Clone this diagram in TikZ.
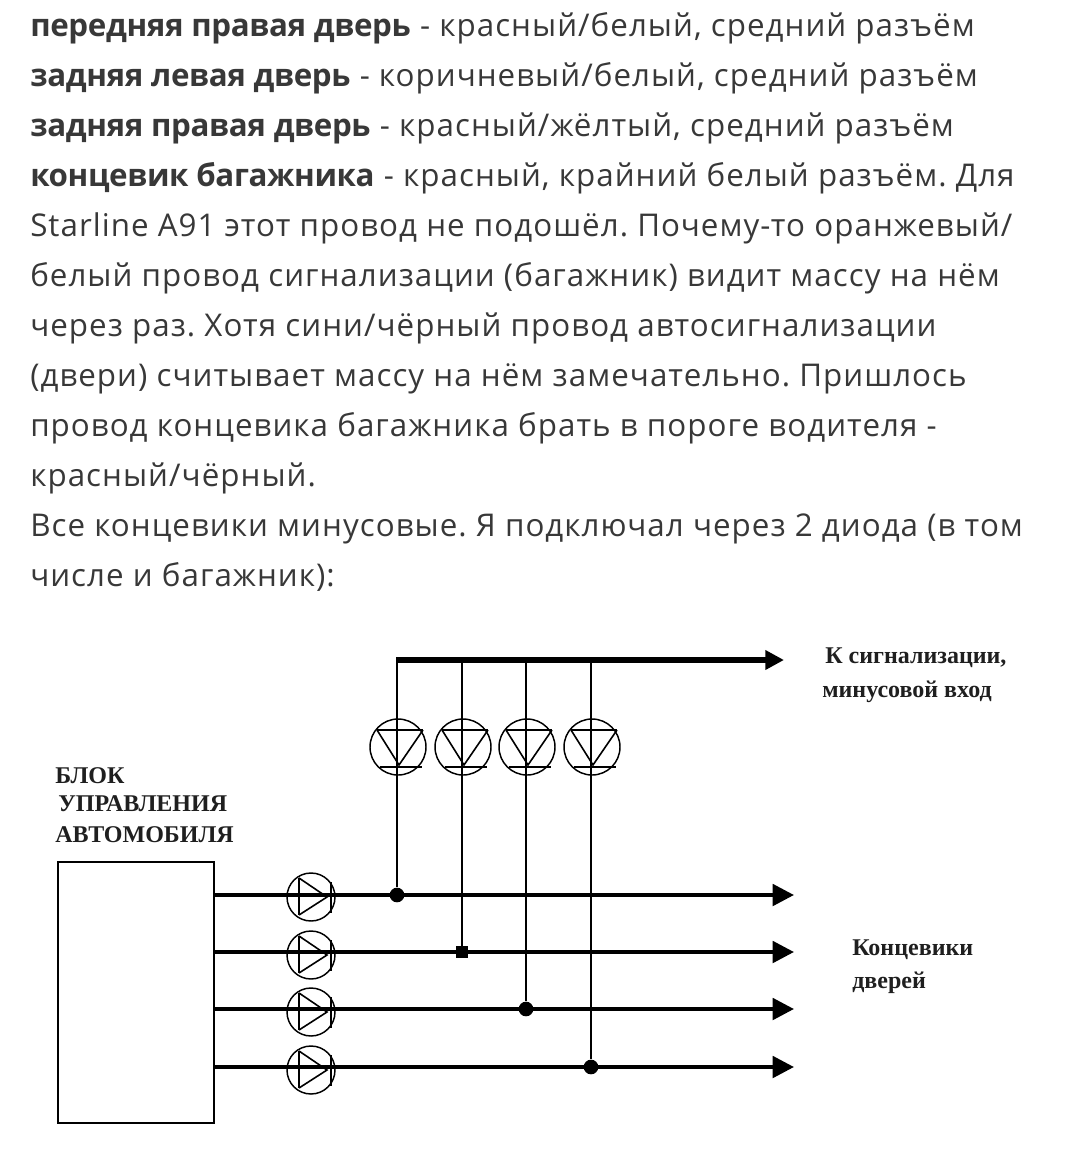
\documentclass[tikz,border=0pt]{standalone}
\usepackage{fontspec}
\setmainfont{Open Sans}[LetterSpace=3.3,BoldFeatures={LetterSpace=-1.2}]
\newfontfamily\labelfont{Liberation Serif}
\usetikzlibrary{arrows.meta}
\frenchspacing

\tikzset{
  textline/.style={anchor=base west, inner sep=0pt, text=black!78, font=\fontsize{23.5}{27}\selectfont},
  cirlabel/.style={anchor=base west, inner sep=0pt, text=black!88, font=\labelfont\bfseries\fontsize{18}{22}\selectfont},
  bus/.style={line width=4.5pt, -{Triangle[length=14pt,width=14pt]}},
  wire/.style={line width=3pt, -{Triangle[length=16pt,width=16pt]}},
  riser/.style={line width=1.8pt},
  ring/.style={draw, circle, line width=1.1pt, minimum size=42pt, inner sep=0pt},
  ringh/.style={draw, circle, line width=1.1pt, minimum size=36pt, inner sep=0pt},
  joint/.style={fill=black, circle, minimum size=11pt, inner sep=0pt},
  diodedown/.pic={
    \draw[line width=1.2pt] (-21,-17) -- (25,-17);
    \draw[line width=1.2pt] (-21,-17) -- (1,18) -- (25,-17);
    \draw[line width=1.2pt] (-18,20) -- (24,20);
  },
  dioderight/.pic={
    \draw[line width=1.2pt] (-12,-19) -- (-12,18);
    \draw[line width=1.2pt] (-12,-19) -- (16,0) -- (-12,18);
    \draw[line width=1.2pt] (20,-15) -- (20,16);
  }
}

\begin{document}
\begin{tikzpicture}[x=0.75pt,y=-0.75pt]
    \useasboundingbox (0,0) rectangle (1080,1154);
    % текст
    \node[textline] (row1) at (30,36) {{\bfseries передняя правая дверь} - красный/белый, средний разъём};
    \node[textline] (row2) at (30,86) {{\bfseries задняя левая дверь} - коричневый/белый, средний разъём};
    \node[textline] (row3) at (30,136) {{\bfseries задняя правая дверь} - красный/жёлтый, средний разъём};
    \node[textline] (row4) at (30,186) {{\bfseries концевик багажника} - красный, крайний белый разъём. Для};
    \node[textline] (row5) at (30,236) {Starline A91 этот провод не подошёл. Почему-то оранжевый/};
    \node[textline] (row6) at (30,286) {белый провод сигнализации (багажник) видит массу на нём};
    \node[textline] (row7) at (30,336) {через раз. Хотя сини/чёрный провод автосигнализации};
    \node[textline] (row8) at (30,386) {(двери) считывает массу на нём замечательно. Пришлось};
    \node[textline] (row9) at (30,436) {провод концевика багажника брать в пороге водителя -};
    \node[textline] (row10) at (30,486) {красный/чёрный.};
    \node[textline] (row11) at (30,536) {Все концевики минусовые. Я подключал через 2 диода (в том};
    \node[textline] (row12) at (30,586) {числе и багажник):};

    % блок
    \node[draw, line width=1.5pt, minimum width=117pt, minimum height=196pt, inner sep=0pt] (ecu) at (136,992.5) {};
    \node[cirlabel] (ecu1) at (55,783) {БЛОК};
    \node[cirlabel] (ecu2) at (58,811) {УПРАВЛЕНИЯ};
    \node[cirlabel] (ecu3) at (55,842) {АВТОМОБИЛЯ};
    \node[cirlabel] (alarm1) at (825,663) {К сигнализации,};
    \node[cirlabel] (alarm2) at (822,697) {минусовой вход};
    \node[cirlabel] (door1) at (852,955) {Концевики};
    \node[cirlabel] (door2) at (852,988) {дверей};

    % шина и выводы
    \coordinate (busa) at (396,660);
    \coordinate (busb) at (784,660);
    \coordinate (top1) at (397,660);
    \coordinate (top2) at (462,660);
    \coordinate (top3) at (526,660);
    \coordinate (top4) at (591,660);
    \coordinate (in1) at (213,895);
    \coordinate (in2) at (213,952);
    \coordinate (in3) at (213,1009);
    \coordinate (in4) at (213,1067);
    \coordinate (out1) at (794,895);
    \coordinate (out2) at (794,952);
    \coordinate (out3) at (794,1009);
    \coordinate (out4) at (794,1067);
    \node[joint] (j1) at (397,895) {};
    \node[joint, rectangle, minimum size=9pt] (j2) at (462,952) {};
    \node[joint] (j3) at (526,1009) {};
    \node[joint] (j4) at (591,1067) {};

    \draw[riser] (top1) -- (j1);
    \draw[riser] (top2) -- (j2);
    \draw[riser] (top3) -- (j3);
    \draw[riser] (top4) -- (j4);
    \draw[bus] (busa) -- (busb);
    \draw[wire] (in1) -- (out1);
    \draw[wire] (in2) -- (out2);
    \draw[wire] (in3) -- (out3);
    \draw[wire] (in4) -- (out4);

    % диоды
    \node[ring] (up1) at (398,747) {};
    \pic at (up1) {diodedown};
    \node[ring] (up2) at (463,747) {};
    \pic at (up2) {diodedown};
    \node[ring] (up3) at (527,747) {};
    \pic at (up3) {diodedown};
    \node[ring] (up4) at (592,747) {};
    \pic at (up4) {diodedown};
    \node[ringh] (lo1) at (311,897) {};
    \pic at (lo1) {dioderight};
    \node[ringh] (lo2) at (311,955) {};
    \pic at (lo2) {dioderight};
    \node[ringh] (lo3) at (311,1012) {};
    \pic at (lo3) {dioderight};
    \node[ringh] (lo4) at (311,1070) {};
    \pic at (lo4) {dioderight};
\end{tikzpicture}
\end{document}
